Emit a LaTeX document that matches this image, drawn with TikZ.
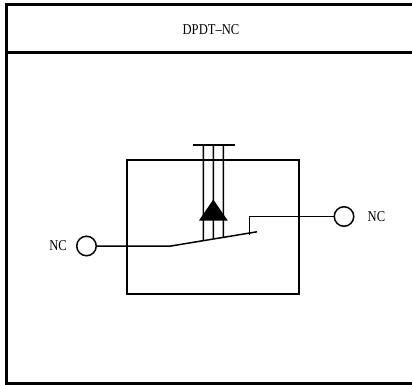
\documentclass[tikz,border=0pt]{standalone}
\usepackage{fontspec}
\setmainfont{Liberation Serif}
\newfontfamily\narrowfont[FakeStretch=0.84]{Liberation Serif}
\usetikzlibrary{positioning}
\usetikzlibrary{calc}

\begin{document}
\begin{tikzpicture}[x=1pt, y=-1pt,
    frame/.style={line width=3pt},
    wire/.style={line width=1.5pt},
    term/.style={circle, draw, line width=1.5pt, minimum size=19.5pt, inner sep=0pt},
    lbl/.style={font=\narrowfont\fontsize{15}{17}\selectfont, inner sep=0pt}]
    \useasboundingbox (0,0) rectangle (412,385);

    % outer frame and title
    \draw[frame] (420,4.5) -- (6.5,4.5) -- (6.5,383) -- (420,383);
    \draw[frame] (6.5,52.5) -- (420,52.5);
    \node[lbl] (title) at (211,29.5) {DPDT\textendash NC};

    % relay body
    \draw[wire] (127,160) rectangle (299,294);

    % terminals
    \node[term] (ncleft) at (86.5,246) {};
    \node[lbl, left=9pt of ncleft] (ncleftlbl) {NC};
    \node[term] (ncright) at (344,216.5) {};
    \node[lbl, right=13pt of ncright] (ncrightlbl) {NC};

    % switch blade
    \coordinate (pivot) at (171,246);
    \coordinate (tip) at (257,231.8);
    \coordinate (contact) at (249.3,235);
    \draw[wire] (ncleft) -- (pivot) -- (tip);
    \draw[wire] (contact) -- (contact |- ncright) -- (ncright);

    % actuator
    \draw[wire] (192.5,145) -- (234.5,145);
    \foreach \x/\t in {203.3/0.376, 213.3/0.492, 223.3/0.608}
        \draw[wire] (\x,145) -- ($(pivot)!\t!(tip)$);
    \fill (213.3,199.5) -- (199,220.5) -- (227.7,220.5) -- cycle;
\end{tikzpicture}
\end{document}
